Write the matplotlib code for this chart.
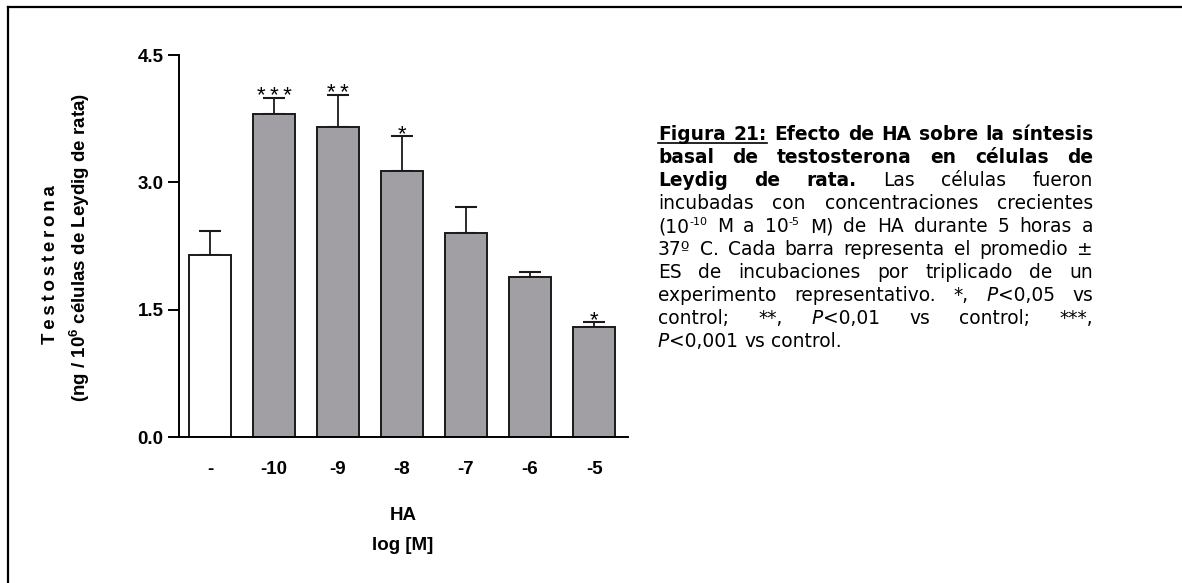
import matplotlib
matplotlib.use("Agg")
import matplotlib.pyplot as plt
from matplotlib.lines import Line2D

# Datos
categories = ['-', '-10', '-9', '-8', '-7', '-6', '-5']
means = [2.14, 3.81, 3.65, 3.13, 2.40, 1.88, 1.30]
errors = [0.29, 0.18, 0.38, 0.41, 0.31, 0.06, 0.06]
stars = ['', '***', '**', '*', '', '', '*']
yticks = [0.0, 1.5, 3.0, 4.5]

plt.rcParams['font.family'] = 'Liberation Sans'
plt.rcParams['mathtext.fontset'] = 'custom'
plt.rcParams['mathtext.rm'] = 'Liberation Sans:bold'
plt.rcParams['mathtext.default'] = 'rm'

W, H = 1182, 583
fig = plt.figure(figsize=(W / 100, H / 100), dpi=100)


def fx(px):
    return px / W


def fy(py):
    return 1 - py / H


ax = fig.add_axes([fx(179), fy(437), fx(628) - fx(179), fy(55) - fy(437)])

x = list(range(len(categories)))
colors = ['white'] + ['#a19fa4'] * (len(categories) - 1)
ax.bar(x, means, width=0.66, color=colors, edgecolor='#1a1a1a', linewidth=1.4, zorder=2)
ax.errorbar(x, means, yerr=[[0] * len(errors), errors], fmt='none', ecolor='#1a1a1a',
            elinewidth=1.3, capsize=8, capthick=1.5, zorder=1)

thin = '\u2009'
for xi, m, e, s in zip(x, means, errors, stars):
    if s:
        ax.annotate(thin.join(s), (xi, m + e), xytext=(0, -3), textcoords='offset points',
                    ha='center', va='baseline', fontsize=16)

fs = 13.5
ax.set_xlim(-0.484, 6.53)
ax.set_ylim(0, 4.5)
ax.set_yticks(yticks)
ax.set_yticklabels([f'{v:.1f}' for v in yticks], fontweight='bold', fontsize=fs)
ax.set_xticks(x)
ax.set_xticklabels(categories, fontweight='bold', fontsize=fs)
ax.tick_params(axis='x', length=0, pad=17)
ax.tick_params(axis='y', length=8, width=1.4, pad=3)
for side in ['top', 'right']:
    ax.spines[side].set_visible(False)
for side in ['left', 'bottom']:
    ax.spines[side].set_linewidth(1.4)

fig.text(fx(403), fy(515), 'HA', ha='center', va='center', fontweight='bold', fontsize=fs)
fig.text(fx(403), fy(545), 'log [M]', ha='center', va='center', fontweight='bold', fontsize=fs)

fig.text(fx(51), fy(265), thin.join('Testosterona'), rotation=90, ha='center', va='center',
         fontweight='bold', fontsize=fs)
fig.text(fx(80), fy(247), r'(ng / 10$^{6}$ células de Leydig de rata)', rotation=90,
         ha='center', va='center', fontweight='bold', fontsize=fs)

# marco
fig.add_artist(Line2D([fx(8), fx(8)], [fy(7), 0], color='black', lw=1.6))
fig.add_artist(Line2D([fx(8), 1], [fy(7), fy(7)], color='black', lw=1.6))

# Leyenda justificada
caption = [
    [('Figura 21:', 'bu'), (' Efecto de HA sobre la síntesis', 'b')],
    [('basal de testosterona en células de', 'b')],
    [('Leydig de rata.', 'b'), (' Las células fueron', 'n')],
    [('incubadas con concentraciones crecientes', 'n')],
    [('(10', 'n'), ('-10', 's'), (' M a 10', 'n'), ('-5', 's'), (' M) de HA durante 5 horas a', 'n')],
    [('37º C. Cada barra representa el promedio ±', 'n')],
    [('ES de incubaciones por triplicado de un', 'n')],
    [('experimento representativo. *, ', 'n'), ('P', 'i'), ('<0,05 vs', 'n')],
    [('control; **, ', 'n'), ('P', 'i'), ('<0,01 vs control; ***,', 'n')],
    [('P', 'i'), ('<0,001 vs control.', 'n')],
]

cap_fs = 13.4
left_px, right_px = 658, 1093
base0, step = 140, 23.0
renderer = fig.canvas.get_renderer()


def text_kw(style):
    kw = dict(family='DejaVu Sans', fontsize=cap_fs, va='baseline', ha='left')
    if 'b' in style:
        kw['fontweight'] = 'bold'
    if 'i' in style:
        kw['fontstyle'] = 'italic'
    if 's' in style:
        kw['fontsize'] = cap_fs * 0.6
    return kw


def measure(s, style):
    t = fig.text(0, 0, s, **text_kw(style))
    w = t.get_window_extent(renderer).width
    t.remove()
    return w


space_w = measure('a a', 'n') - measure('aa', 'n')

for li, runs in enumerate(caption):
    words, cur = [], []
    for txt, st in runs:
        parts = txt.split(' ')
        for pi, p in enumerate(parts):
            if pi > 0:
                if cur:
                    words.append(cur)
                cur = []
            if p:
                cur.append((p, st))
    if cur:
        words.append(cur)
    widths = [[measure(p, st) for p, st in w] for w in words]
    total = sum(sum(ws) for ws in widths)
    last = li == len(caption) - 1
    gap = space_w if last else (right_px - left_px - total) / (len(words) - 1)
    xpos = left_px
    by = base0 + li * step
    ul_start = ul_end = None
    for w, ws in zip(words, widths):
        for (p, st), pw in zip(w, ws):
            yy = by - (7 if 's' in st else 0)
            fig.text(fx(xpos), fy(yy), p, **text_kw(st))
            if 'u' in st:
                ul_start = xpos if ul_start is None else ul_start
                ul_end = xpos + pw
            xpos += pw
        xpos += gap
    if ul_start is not None:
        fig.add_artist(Line2D([fx(ul_start), fx(ul_end)], [fy(by + 2.5), fy(by + 2.5)],
                              color='black', lw=1.2))

fig.savefig('out.png', dpi=100)
